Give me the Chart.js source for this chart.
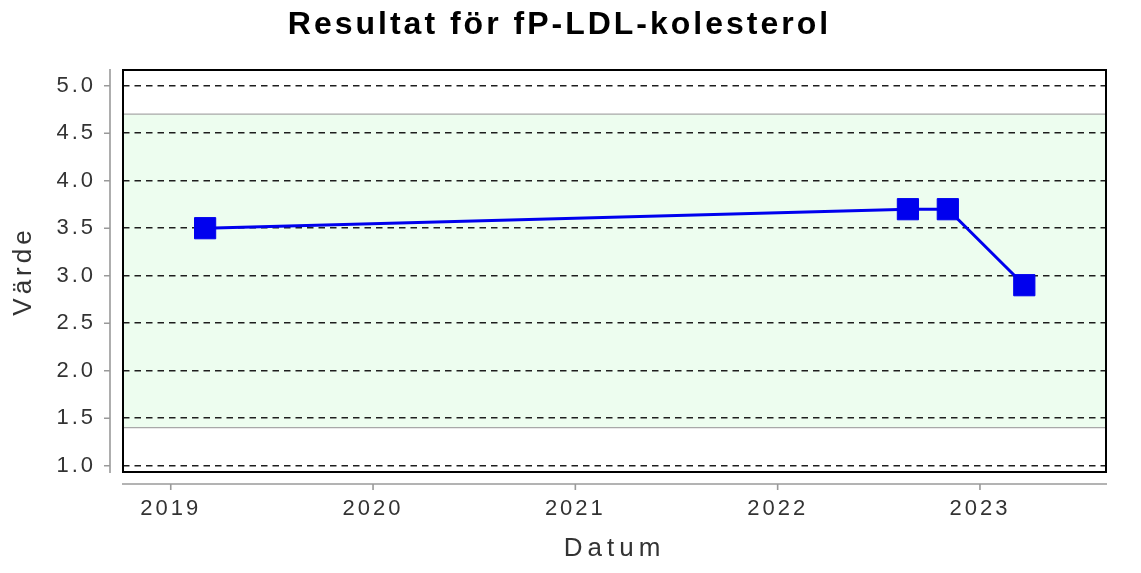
<!DOCTYPE html>
<html>
<head>
<meta charset="utf-8">
<script src="https://cdn.jsdelivr.net/npm/chart.js@4"></script>
<style>
  html, body { margin: 0; padding: 0; background: #fff; overflow: hidden; }
  #wrap { width: 1141px; height: 573px; position: relative; }
</style>
</head>
<body>
<div id="wrap"><canvas id="c"></canvas></div>
<script>
// ---- data ----
const titleText = 'Resultat för fP-LDL-kolesterol';
const xTitle = 'Datum';
const yTitle = 'Värde';
const sampleDates = ['2019-03-04', '2022-08-24', '2022-11-04', '2023-03-22'];
const sampleValues = [3.5, 3.7, 3.7, 2.9];
const xTickYears = [2019, 2020, 2021, 2022, 2023];
const yTickValues = [1.0, 1.5, 2.0, 2.5, 3.0, 3.5, 4.0, 4.5, 5.0];
const refRange = [1.4, 4.7];

function toDecimalYear(s) {
  const [yy, mm, dd] = s.split('-').map(Number);
  const start = Date.UTC(yy, 0, 1);
  const end = Date.UTC(yy + 1, 0, 1);
  const t = Date.UTC(yy, mm - 1, dd);
  return yy + (t - start) / (end - start);
}
const points = sampleDates.map((d, i) => ({ x: toDecimalYear(d), y: sampleValues[i] }));

function patchSpacing(obj, method, spacing) {
  if (!obj || obj['__p_' + method]) return;
  const orig = obj[method];
  obj[method] = function (...args) {
    const c = this.ctx;
    const prev = c.letterSpacing;
    c.letterSpacing = spacing;
    const r = orig.apply(this, args);
    c.letterSpacing = prev || '0px';
    return r;
  };
  obj['__p_' + method] = true;
}

const decor = {
  id: 'decor',
  beforeDraw(chart) {
    const { ctx, chartArea: a, scales: { x, y } } = chart;
    patchSpacing(chart.titleBlock, 'draw', '3px');
    patchSpacing(x, 'drawLabels', '3px');
    patchSpacing(y, 'drawLabels', '3px');
    patchSpacing(x, 'drawTitle', '5px');
    patchSpacing(y, 'drawTitle', '4px');
    ctx.save();
    ctx.fillStyle = '#ffffff';
    ctx.fillRect(0, 0, chart.width, chart.height);
    const yTop = y.getPixelForValue(refRange[1]);
    const yBot = y.getPixelForValue(refRange[0]);
    ctx.fillStyle = '#edfdef';
    ctx.fillRect(a.left, yTop, a.right - a.left, yBot - yTop);
    ctx.strokeStyle = '#a8a8a8';
    ctx.lineWidth = 1.3;
    ctx.beginPath();
    ctx.moveTo(a.left, yTop); ctx.lineTo(a.right, yTop);
    ctx.moveTo(a.left, yBot); ctx.lineTo(a.right, yBot);
    ctx.stroke();
    ctx.restore();
  },
  afterDraw(chart) {
    const { ctx, chartArea: a, scales: { x, y } } = chart;
    ctx.save();
    // plot box
    ctx.strokeStyle = '#000';
    ctx.lineWidth = 2;
    ctx.strokeRect(a.left, a.top, a.right - a.left, a.bottom - a.top);
    // detached axis lines
    ctx.strokeStyle = '#9a9a9a';
    ctx.lineWidth = 1.6;
    const ax = a.left - 13;
    ctx.beginPath();
    ctx.moveTo(ax, a.top - 1); ctx.lineTo(ax, a.bottom + 1);
    y.ticks.forEach(t => {
      const py = y.getPixelForValue(t.value);
      ctx.moveTo(ax - 6, py); ctx.lineTo(ax, py);
    });
    const ay = a.bottom + 12;
    ctx.moveTo(a.left - 1, ay); ctx.lineTo(a.right + 1, ay);
    x.ticks.forEach(t => {
      const px = x.getPixelForValue(t.value);
      ctx.moveTo(px, ay); ctx.lineTo(px, ay + 6);
    });
    ctx.stroke();
    ctx.restore();
  }
};

new Chart(document.getElementById('c'), {
  type: 'line',
  data: {
    datasets: [{
      data: points,
      borderColor: '#0000ee',
      backgroundColor: '#0000ee',
      borderWidth: 3,
      pointStyle: 'rect',
      pointRadius: 15,
      pointHoverRadius: 15,
      pointBorderWidth: 1,
      pointBorderColor: '#0000ee',
      pointBackgroundColor: '#0000ee',
      tension: 0,
      fill: false
    }]
  },
  options: {
    responsive: true,
    maintainAspectRatio: false,
    animation: false,
    events: [],
    layout: { padding: { left: 13, right: 35, top: 0, bottom: 0 } },
    plugins: {
      legend: { display: false },
      tooltip: { enabled: false },
      title: {
        display: true,
        text: titleText,
        color: '#000',
        font: { family: 'Liberation Sans, Arial, sans-serif', size: 32, weight: 'bold', lineHeight: 1.2 },
        padding: { top: 5.5, bottom: 26.1 }
      }
    },
    scales: {
      x: {
        type: 'linear',
        min: 2018.764,
        max: 2023.623,
        afterBuildTicks: s => { s.ticks = xTickYears.map(v => ({ value: v })); },
        afterFit: s => { s.height = 101; },
        grid: { display: false, drawTicks: false },
        border: { display: false },
        ticks: {
          color: '#333',
          padding: 24,
          font: { family: 'Liberation Sans, Arial, sans-serif', size: 22 },
          callback: v => String(v),
          autoSkip: false,
          maxRotation: 0
        },
        title: {
          display: true,
          text: xTitle,
          color: '#333',
          font: { family: 'Liberation Sans, Arial, sans-serif', size: 26, lineHeight: 1.2 },
          padding: { top: 0, bottom: 8.4 }
        }
      },
      y: {
        type: 'linear',
        min: 0.934,
        max: 5.165,
        afterBuildTicks: s => { s.ticks = yTickValues.map(v => ({ value: v })); },
        afterFit: s => { s.width = 110; },
        grid: { display: true, drawTicks: false, color: '#1e1e1e', lineWidth: 1.6 },
        border: { display: false, dash: [6.5, 5] },
        ticks: {
          color: '#333',
          padding: 27,
          font: { family: 'Liberation Sans, Arial, sans-serif', size: 22 },
          callback: v => Number(v).toFixed(1)
        },
        title: {
          display: true,
          text: yTitle,
          color: '#333',
          font: { family: 'Liberation Sans, Arial, sans-serif', size: 26, lineHeight: 1.2 },
          padding: { top: -4.6, bottom: 0 }
        }
      }
    }
  },
  plugins: [decor]
});
</script>
</body>
</html>
